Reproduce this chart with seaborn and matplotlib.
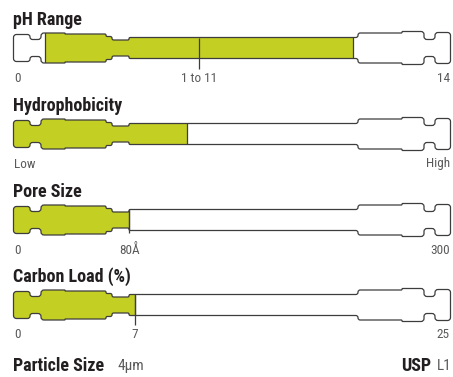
import numpy as np
import matplotlib
matplotlib.use("Agg")
import matplotlib.pyplot as plt
from matplotlib import font_manager as fm
from matplotlib.path import Path
from matplotlib.patches import PathPatch
from matplotlib.transforms import offset_copy
import seaborn as sns

# ---------------------------------------------------------------- data
gauge_titles = ["pH Range", "Hydrophobicity", "Pore Size", "Carbon Load (%)"]
scale_min = [0, 0, 0, 0]
scale_max = [14, 1, 300, 25]
fill_low = [1, 0, 0, 0]
fill_high = [11, 0.4, 80, 7]
label_values = [[0, 6, 14], [0, 1], [0, 80, 300], [0, 7, 25]]
label_texts = [["0", "1 to 11", "14"], ["Low", "High"],
               ["0", "80Å", "300"], ["0", "7", "25"]]
marker_values = [[6], [], [80], [7]]
particle_size = "4µm"
usp_code = "L1"

# ---------------------------------------------------------------- style
GREEN = "#c4cf23"
STROKE = "#3d3d3d"
TITLE_C = "#231f20"
LABEL_C = "#5a5a5a"

sns.set_theme(style="white")


def pick_condensed():
    names = {f.name for f in fm.fontManager.ttflist}
    for n in ["Roboto Condensed", "Liberation Sans Narrow", "Open Sans Condensed"]:
        if n in names:
            return n, "normal"
    for f in fm.fontManager.ttflist:
        st = str(f.stretch)
        if st in ("condensed", "semi-condensed", "ultra-condensed", "extra-condensed"):
            return f.name, st
    return "Roboto", "normal"


FONT, STRETCH = pick_condensed()
plt.rcParams["font.family"] = [FONT, "DejaVu Sans"]
plt.rcParams["font.stretch"] = STRETCH

W, H = 453, 377
X0, X1 = 14, 446                      # pixel span of each gauge scale
ROW_CENTER = [48, 134, 220, 305]      # vertical centre of each column, px from top
TICK_DROP = [10, 0, 2, 9]             # how far a marker runs below the column body

# column outline: (x start px, x end px, half height px)
PROFILE = [(13.5, 30, 13.5), (30, 41, 8.5), (41, 65, 15), (65, 106, 14),
           (106, 112, 11.5), (112, 129, 8), (129, 358, 10.5), (358, 402, 15),
           (402, 424, 16.5), (424, 435, 8.5), (435, 450.5, 15.5)]
BODY_HALF = 10.5


def outline_vertices():
    top = []
    for xs, xe, h in PROFILE:
        top.append((xs, h))
        top.append((xe, h))
    bottom = [(x, -h) for x, h in reversed(top)]
    pts = top + bottom
    clean = [pts[0]]
    for p in pts[1:]:
        if abs(p[0] - clean[-1][0]) > 1e-9 or abs(p[1] - clean[-1][1]) > 1e-9:
            clean.append(p)
    return np.array(clean, float)


def rounded(pts, r):
    n = len(pts)
    verts, codes = [], []
    for i in range(n):
        p0, p, p1 = pts[i - 1], pts[i], pts[(i + 1) % n]
        d1, d2 = p0 - p, p1 - p
        l1, l2 = np.hypot(*d1), np.hypot(*d2)
        rr = min(r, l1 / 2, l2 / 2)
        a = p + d1 / l1 * rr
        b = p + d2 / l2 * rr
        verts.append(a)
        codes.append(Path.MOVETO if i == 0 else Path.LINETO)
        verts += [p, b]
        codes += [Path.CURVE3, Path.CURVE3]
    verts.append(verts[0])
    codes.append(Path.CLOSEPOLY)
    return np.array(verts), codes


base_verts, base_codes = rounded(outline_vertices(), 3.0)

fig = plt.figure(figsize=(W / 100, H / 100), dpi=100)

for i, title in enumerate(gauge_titles):
    c = ROW_CENTER[i]
    ax = fig.add_axes([X0 / W, 1 - (c + 26) / H, (X1 - X0) / W, 46 / H])
    vmin, vmax = scale_min[i], scale_max[i]

    verts = base_verts.copy()
    verts[:, 0] = vmin + (verts[:, 0] - X0) / (X1 - X0) * (vmax - vmin)
    body_path = Path(verts, base_codes)

    body = PathPatch(body_path, facecolor="white", edgecolor="none",
                     zorder=1, clip_on=False)
    ax.add_patch(body)

    # filled portion of the column
    sns.barplot(x=[fill_high[i] - fill_low[i]], y=[0], orient="h",
                left=fill_low[i], width=44, color=GREEN, saturation=1,
                errorbar=None, linewidth=0, ax=ax, zorder=2)
    for bar in ax.patches:
        if bar is not body:
            bar.set_clip_path(body)

    # boundaries of the filled portion
    for v in (fill_low[i], fill_high[i]):
        if vmin < v < vmax:
            ln = ax.axvline(v, color=STROKE, lw=0.9, zorder=3)
            ln.set_clip_path(body)

    ax.add_patch(PathPatch(body_path, facecolor="none", edgecolor=STROKE,
                           lw=0.9, zorder=4, clip_on=False))

    for v in marker_values[i]:
        ax.plot([v, v], [BODY_HALF, -BODY_HALF - TICK_DROP[i]], color=STROKE,
                lw=0.9, zorder=5, clip_on=False, solid_capstyle="butt")

    ax.set_xlim(vmin, vmax)
    ax.set_ylim(-26, 20)
    ax.axis("off")

    # scale labels
    n = len(label_values[i])
    for j, (v, t) in enumerate(zip(label_values[i], label_texts[i])):
        if j == 0:
            ha, tr = "left", ax.transData
        elif j == n - 1:
            ha, tr = "right", offset_copy(ax.transData, fig=fig, x=4, units="dots")
        else:
            ha, tr = "center", ax.transData
        ax.text(v, -30, t, ha=ha, va="center", fontsize=9.5, color=LABEL_C,
                transform=tr, clip_on=False)

    fig.text(13 / W, 1 - (c - 28) / H, title, ha="left", va="center",
             fontsize=13, fontweight="bold", color=TITLE_C)

# footer
fig.text(13 / W, 1 - 366 / H, "Particle Size", ha="left", va="center",
         fontsize=13, fontweight="bold", color=TITLE_C)
fig.text(118 / W, 1 - 366 / H, particle_size, ha="left", va="center",
         fontsize=11, color=LABEL_C)
fig.text(451 / W, 1 - 366 / H, usp_code, ha="right", va="center",
         fontsize=11, color=LABEL_C)
fig.text(431 / W, 1 - 366 / H, "USP", ha="right", va="center",
         fontsize=13, fontweight="bold", color=TITLE_C)

fig.savefig("out.png", dpi=100)
